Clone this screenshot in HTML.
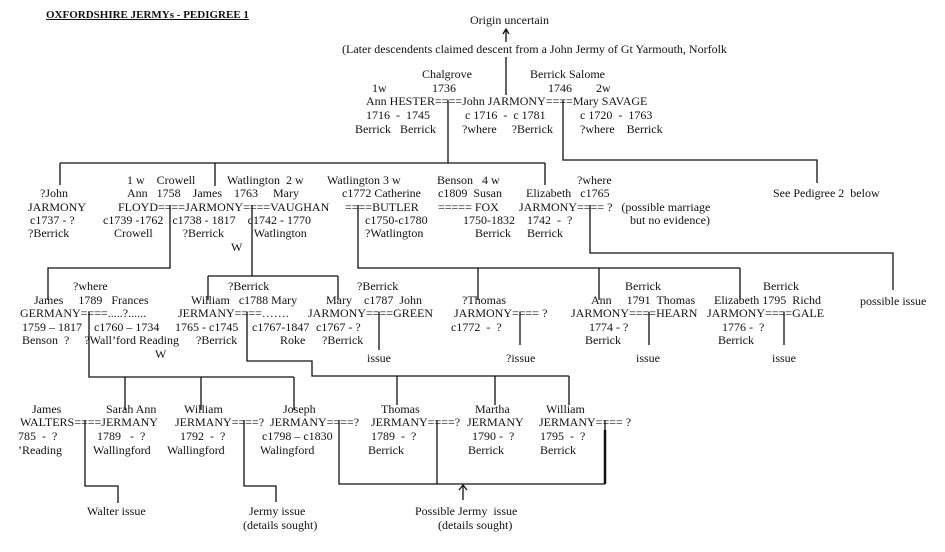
<!DOCTYPE html>
<html><head><meta charset="utf-8"><style>
body{margin:0;background:#fff;}
#c{position:relative;width:945px;height:552px;overflow:hidden;background:#fff;}
.t{position:absolute;white-space:pre;font:12px "Liberation Serif",serif;line-height:13px;color:#111;}
svg{position:absolute;left:0;top:0;}
</style></head><body><div id="c">
<svg width="945" height="552" stroke="#111" stroke-width="1.3" fill="none">
<path d="M506 30V42M503 34L506 29L509 34"/>
<path d="M506 57V95"/>
<path d="M448 100V163M60 163H545M60 163V185M215 163V186M545 163V185"/>
<path d="M563 100V160H817V183"/>
<path d="M170 205V268H48V300"/>
<path d="M252 205V276M208 276H338M208 276V300M338 276V300"/>
<path d="M358 205V268H740M478 268V300M599 268V300M740 268V300"/>
<path d="M590 205V253H893V290"/>
<path d="M379 312V350M520 312V345M649 312V345M784 312V345"/>
<path d="M89 312V377H294M125 377V410M201 377V410M294 377V410"/>
<path d="M247 312V361H312V376H569M397 376V405M495 376V405M569 376V405"/>
<path d="M85 420V486H118V503"/>
<path d="M244 420V486H276V502"/>
<path d="M339 420V484H605M437 420V484M605 420V484" />
<path d="M605 430V484" stroke-width="2.5"/>
<path d="M463 486V500M459 490L463 485L467 490"/>
</svg>
<div class="t" style="left:46px;top:9px;font-weight:bold;font-size:11px;text-decoration:underline">OXFORDSHIRE JERMYs - PEDIGREE 1</div>
<div class="t" style="left:470px;top:14px">Origin uncertain</div>
<div class="t" style="left:342px;top:43px">(Later descendents claimed descent from a John Jermy of Gt Yarmouth, Norfolk</div>
<div class="t" style="left:422px;top:68px">Chalgrove</div>
<div class="t" style="left:530px;top:68px">Berrick Salome</div>
<div class="t" style="left:372px;top:82px">1w</div>
<div class="t" style="left:432px;top:82px">1736</div>
<div class="t" style="left:548px;top:82px">1746</div>
<div class="t" style="left:596px;top:82px">2w</div>
<div class="t" style="left:366px;top:95px">Ann HESTER====John JARMONY====Mary SAVAGE</div>
<div class="t" style="left:366px;top:109px">1716  -  1745</div>
<div class="t" style="left:465px;top:109px">c 1716  -  c 1781</div>
<div class="t" style="left:580px;top:109px">c 1720  -  1763</div>
<div class="t" style="left:355px;top:123px">Berrick   Berrick</div>
<div class="t" style="left:462px;top:123px">?where     ?Berrick</div>
<div class="t" style="left:580px;top:123px">?where    Berrick</div>

<div class="t" style="left:40px;top:187px">?John</div>
<div class="t" style="left:28px;top:201px">JARMONY</div>
<div class="t" style="left:30px;top:214px">c1737 - ?</div>
<div class="t" style="left:28px;top:227px">?Berrick</div>
<div class="t" style="left:127px;top:174px">1 w    Crowell</div>
<div class="t" style="left:227px;top:174px">Watlington  2 w</div>
<div class="t" style="left:127px;top:187px">Ann   1758    James    1763     Mary</div>
<div class="t" style="left:118px;top:201px">FLOYD====JARMONY====VAUGHAN</div>
<div class="t" style="left:103px;top:214px">c1739 -1762   c1738 - 1817    c1742 - 1770</div>
<div class="t" style="left:114px;top:227px">Crowell          ?Berrick          Watlington</div>
<div class="t" style="left:231px;top:241px">W</div>
<div class="t" style="left:327px;top:174px">Watlington 3 w</div>
<div class="t" style="left:342px;top:187px">c1772 Catherine</div>
<div class="t" style="left:345px;top:201px">====BUTLER</div>
<div class="t" style="left:365px;top:214px">c1750-c1780</div>
<div class="t" style="left:365px;top:227px">?Watlington</div>
<div class="t" style="left:437px;top:174px">Benson   4 w</div>
<div class="t" style="left:438px;top:187px">c1809  Susan</div>
<div class="t" style="left:438px;top:201px">===== FOX</div>
<div class="t" style="left:463px;top:214px">1750-1832</div>
<div class="t" style="left:475px;top:227px">Berrick</div>
<div class="t" style="left:577px;top:174px">?where</div>
<div class="t" style="left:526px;top:187px">Elizabeth   c1765</div>
<div class="t" style="left:519px;top:201px">JARMONY==== ?   (possible marriage</div>
<div class="t" style="left:527px;top:214px">1742  -  ?</div>
<div class="t" style="left:630px;top:214px">but no evidence)</div>
<div class="t" style="left:527px;top:227px">Berrick</div>
<div class="t" style="left:773px;top:187px">See Pedigree 2  below</div>

<div class="t" style="left:73px;top:280px">?where</div>
<div class="t" style="left:34px;top:294px">James     1789   Frances</div>
<div class="t" style="left:20px;top:307px">GERMANY====.....?......</div>
<div class="t" style="left:22px;top:321px">1759 – 1817    c1760 – 1734</div>
<div class="t" style="left:22px;top:334px">Benson  ?     ?Wall’ford Reading</div>
<div class="t" style="left:155px;top:348px">W</div>
<div class="t" style="left:228px;top:280px">?Berrick</div>
<div class="t" style="left:191px;top:294px">William   c1788 Mary</div>
<div class="t" style="left:178px;top:307px">JERMANY====…….</div>
<div class="t" style="left:175px;top:321px">1765 - c1745</div>
<div class="t" style="left:252px;top:321px">c1767-1847</div>
<div class="t" style="left:196px;top:334px">?Berrick</div>
<div class="t" style="left:280px;top:334px">Roke</div>
<div class="t" style="left:357px;top:280px">?Berrick</div>
<div class="t" style="left:326px;top:294px">Mary    c1787  John</div>
<div class="t" style="left:308px;top:307px">JARMONY====GREEN</div>
<div class="t" style="left:316px;top:321px">c1767 - ?</div>
<div class="t" style="left:322px;top:334px">?Berrick</div>
<div class="t" style="left:367px;top:352px">issue</div>
<div class="t" style="left:462px;top:294px">?Thomas</div>
<div class="t" style="left:454px;top:307px">JARMONY==== ?</div>
<div class="t" style="left:451px;top:321px">c1772  -  ?</div>
<div class="t" style="left:506px;top:352px">?issue</div>
<div class="t" style="left:625px;top:280px">Berrick</div>
<div class="t" style="left:591px;top:294px">Ann     1791  Thomas</div>
<div class="t" style="left:571px;top:307px">JARMONY====HEARN</div>
<div class="t" style="left:589px;top:321px">1774 - ?</div>
<div class="t" style="left:585px;top:334px">Berrick</div>
<div class="t" style="left:636px;top:352px">issue</div>
<div class="t" style="left:763px;top:280px">Berrick</div>
<div class="t" style="left:714px;top:294px">Elizabeth 1795  Richd</div>
<div class="t" style="left:707px;top:307px">JARMONY====GALE</div>
<div class="t" style="left:722px;top:321px">1776 -  ?</div>
<div class="t" style="left:718px;top:334px">Berrick</div>
<div class="t" style="left:772px;top:352px">issue</div>
<div class="t" style="left:860px;top:295px">possible issue</div>

<div class="t" style="left:32px;top:403px">James</div>
<div class="t" style="left:106px;top:403px">Sarah Ann</div>
<div class="t" style="left:20px;top:416px">WALTERS====JERMANY</div>
<div class="t" style="left:18px;top:430px">785  -  ?</div>
<div class="t" style="left:97px;top:430px">1789   -  ?</div>
<div class="t" style="left:18px;top:444px">’Reading</div>
<div class="t" style="left:93px;top:444px">Wallingford</div>
<div class="t" style="left:184px;top:403px">William</div>
<div class="t" style="left:175px;top:416px">JERMANY====?</div>
<div class="t" style="left:180px;top:430px">1792  -  ?</div>
<div class="t" style="left:167px;top:444px">Wallingford</div>
<div class="t" style="left:283px;top:403px">Joseph</div>
<div class="t" style="left:270px;top:416px">JERMANY====?</div>
<div class="t" style="left:262px;top:430px">c1798 – c1830</div>
<div class="t" style="left:260px;top:444px">Walingford</div>
<div class="t" style="left:381px;top:403px">Thomas</div>
<div class="t" style="left:371px;top:416px">JERMANY====?</div>
<div class="t" style="left:371px;top:430px">1789  -  ?</div>
<div class="t" style="left:368px;top:444px">Berrick</div>
<div class="t" style="left:475px;top:403px">Martha</div>
<div class="t" style="left:467px;top:416px">JERMANY</div>
<div class="t" style="left:472px;top:430px">1790 -  ?</div>
<div class="t" style="left:468px;top:444px">Berrick</div>
<div class="t" style="left:546px;top:403px">William</div>
<div class="t" style="left:539px;top:416px">JERMANY==== ?</div>
<div class="t" style="left:540px;top:430px">1795  -  ?</div>
<div class="t" style="left:540px;top:444px">Berrick</div>
<div class="t" style="left:87px;top:505px">Walter issue</div>
<div class="t" style="left:249px;top:505px">Jermy issue</div>
<div class="t" style="left:243px;top:519px">(details sought)</div>
<div class="t" style="left:415px;top:505px">Possible Jermy  issue</div>
<div class="t" style="left:438px;top:519px">(details sought)</div>
</div></body></html>
